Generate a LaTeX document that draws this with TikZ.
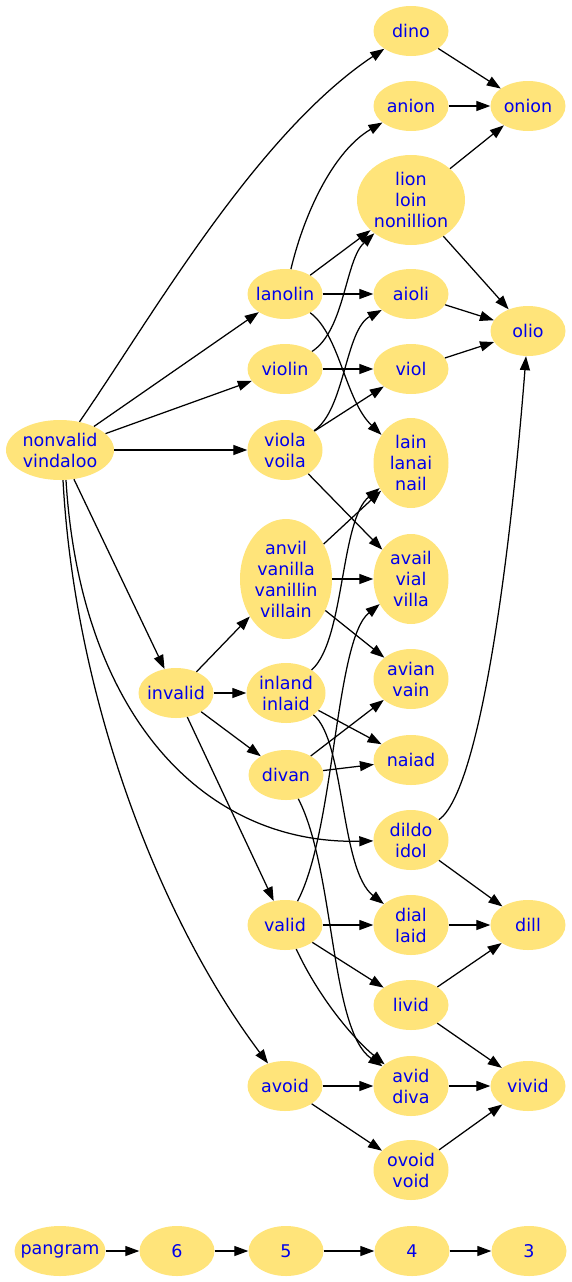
\documentclass[tikz,border=0pt]{standalone}
\usepackage{fontspec}
\setmainfont{DejaVu Sans}
\usetikzlibrary{shapes.geometric,arrows.meta}
\definecolor{nodefill}{RGB}{255,228,122}
\definecolor{nodetext}{RGB}{0,0,235}
\newcommand\wordfont{\fontsize{17.5pt}{21pt}\selectfont}
\begin{document}
\begin{tikzpicture}[x=1pt,y=-1pt,
  wn/.style={ellipse, fill=nodefill, text=nodetext, inner sep=-12pt,
    minimum width=75pt, minimum height=50pt, align=center, font=\wordfont},
  two/.style={minimum height=60pt},
  three/.style={minimum height=90pt},
  edge/.style={draw=black, line width=1.25pt, -{Triangle[length=14pt,width=10pt]}}
]
\useasboundingbox (0,0) rectangle (572,1282);
% nodes
\node[wn] (dino) at (411,31) {dino};
\node[wn] (anion) at (411,106) {anion};
\node[wn] (onion) at (528,106) {onion};
\node[wn,three,minimum width=108pt] (lion) at (411,200) {lion\\loin\\nonillion};
\node[wn] (lanolin) at (285,294) {lanolin};
\node[wn] (aioli) at (411,294) {aioli};
\node[wn] (olio) at (528,331) {olio};
\node[wn] (violin) at (285,369) {violin};
\node[wn] (viol) at (411,369) {viol};
\node[wn,two,minimum width=108pt] (nv) at (60,450) {nonvalid\\vindaloo};
\node[wn,two] (viola) at (285,450) {viola\\voila};
\node[wn,three] (lain) at (411,463) {lain\\lanai\\nail};
\node[wn,minimum width=92pt,minimum height=120pt] (anvil) at (286,579) {anvil\\vanilla\\vanillin\\villain};
\node[wn,three] (avail) at (411,579) {avail\\vial\\villa};
\node[wn] (invalid) at (176,693) {invalid};
\node[wn,two,minimum width=79pt] (inland) at (286,693) {inland\\inlaid};
\node[wn,two] (avian) at (411,679) {avian\\vain};
\node[wn] (divan) at (286,775) {divan};
\node[wn] (naiad) at (411,760) {naiad};
\node[wn,two] (dildo) at (411,840) {dildo\\idol};
\node[wn] (valid) at (285,925) {valid};
\node[wn,two] (dial) at (411,925) {dial\\laid};
\node[wn] (dill) at (528,925) {dill};
\node[wn] (livid) at (411,1005) {livid};
\node[wn] (avoid) at (285,1086) {avoid};
\node[wn,two] (avid) at (411,1086) {avid\\diva};
\node[wn] (vivid) at (528,1086) {vivid};
\node[wn,two] (ovoid) at (411,1170) {ovoid\\void};
\node[wn,minimum width=91pt] (pangram) at (60,1251) {pangram};
\node[wn] (n6) at (177,1251) {6};
\node[wn] (n5) at (286,1251) {5};
\node[wn] (n4) at (412,1251) {4};
\node[wn] (n3) at (529,1251) {3};
% edges
\path[edge] (nv) .. controls (150,320) and (255,135) .. (dino);
\path[edge] (nv) -- (lanolin);
\path[edge] (nv) -- (violin);
\path[edge] (nv) -- (viola);
\path[edge] (nv) -- (invalid);
\path[edge] (nv.south) ++(6,0) .. controls (80,710) and (200,845) .. (dildo);
\path[edge] (nv.south) ++(3,0) .. controls (75,700) and (160,920) .. (avoid);
\path[edge] (dino) -- (onion);
\path[edge] (anion) -- (onion);
\path[edge] (lion) -- (onion);
\path[edge] (lion) -- (olio);
\path[edge] (lanolin) .. controls (305,210) and (335,150) .. (anion);
\path[edge] (lanolin) -- (lion);
\path[edge] (lanolin) -- (aioli);
\path[edge] (lanolin) .. controls (340,335) and (345,400) .. (lain);
\path[edge] (violin) .. controls (345,330) and (345,260) .. (lion);
\path[edge] (violin) -- (viol);
\path[edge] (viola) .. controls (345,410) and (345,330) .. (aioli);
\path[edge] (viola) -- (viol);
\path[edge] (viola) -- (avail);
\path[edge] (aioli) -- (olio);
\path[edge] (viol) -- (olio);
\path[edge] (anvil) -- (lain);
\path[edge] (anvil) -- (avail);
\path[edge] (anvil) -- (avian);
\path[edge] (invalid) -- (anvil);
\path[edge] (invalid) -- (inland);
\path[edge] (invalid) -- (divan);
\path[edge] (invalid) -- (valid);
\path[edge] (inland) .. controls (345,640) and (340,520) .. (lain);
\path[edge] (inland) -- (naiad);
\path[edge] (inland) .. controls (345,740) and (340,870) .. (dial);
\path[edge] (divan) -- (avian);
\path[edge] (divan) -- (naiad);
\path[edge] (divan) .. controls (335,870) and (330,1030) .. (avid);
\path[edge] (valid) .. controls (335,830) and (335,640) .. (avail);
\path[edge] (valid) -- (dial);
\path[edge] (valid) -- (livid);
\path[edge] (valid) .. controls (320,1000) and (355,1040) .. (avid);
\path[edge] (dildo) .. controls (480,790) and (510,560) .. (olio);
\path[edge] (dildo) -- (dill);
\path[edge] (dial) -- (dill);
\path[edge] (livid) -- (dill);
\path[edge] (livid) -- (vivid);
\path[edge] (avoid) -- (avid);
\path[edge] (avoid) -- (ovoid);
\path[edge] (avid) -- (vivid);
\path[edge] (ovoid) -- (vivid);
\path[edge] (pangram) -- (n6);
\path[edge] (n6) -- (n5);
\path[edge] (n5) -- (n4);
\path[edge] (n4) -- (n3);
\end{tikzpicture}
\end{document}
